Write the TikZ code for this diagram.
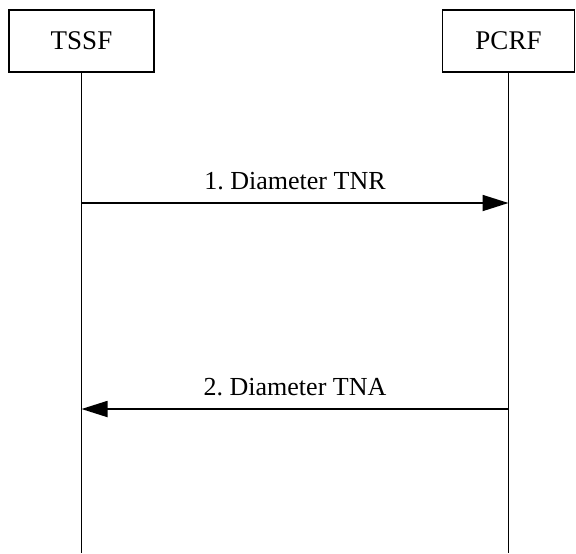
\documentclass[tikz,border=0pt]{standalone}
\usepackage{fontspec}
\setmainfont{Liberation Serif}
\usetikzlibrary{arrows.meta,positioning}
\frenchspacing

\begin{document}
\begin{tikzpicture}[x=0.5pt,y=-0.5pt,
  entity/.style={draw,line width=0.9pt,minimum height=31pt,inner sep=0pt,
    font=\fontsize{13.5}{16}\selectfont},
  life/.style={line width=0.9pt},
  msg/.style={line width=0.9pt,-{Triangle[length=13pt,width=8pt]}},
  lbl/.style={above=3pt,font=\fontsize{13}{15}\selectfont}]
\useasboundingbox (0,0) rectangle (576,553);
% entities
\node[entity,minimum width=72.5pt] (tssf) at (81.5,41) {TSSF};
\node[entity,minimum width=66pt] (pcrf) at (508.5,41) {PCRF};
% lifelines
\coordinate (tssfend) at (tssf.south |- 0,553);
\coordinate (pcrfend) at (pcrf.south |- 0,553);
\draw[life] (tssf.south) -- (tssfend);
\draw[life] (pcrf.south) -- (pcrfend);
% messages
\coordinate (req1) at (tssf.south |- 0,203);
\coordinate (req2) at (pcrf.south |- 0,203);
\coordinate (ans1) at (pcrf.south |- 0,409);
\coordinate (ans2) at (tssf.south |- 0,409);
\draw[msg] (req1) -- node[lbl] {1. Diameter TNR} (req2);
\draw[msg] (ans1) -- node[lbl] {2. Diameter TNA} (ans2);
\end{tikzpicture}
\end{document}
